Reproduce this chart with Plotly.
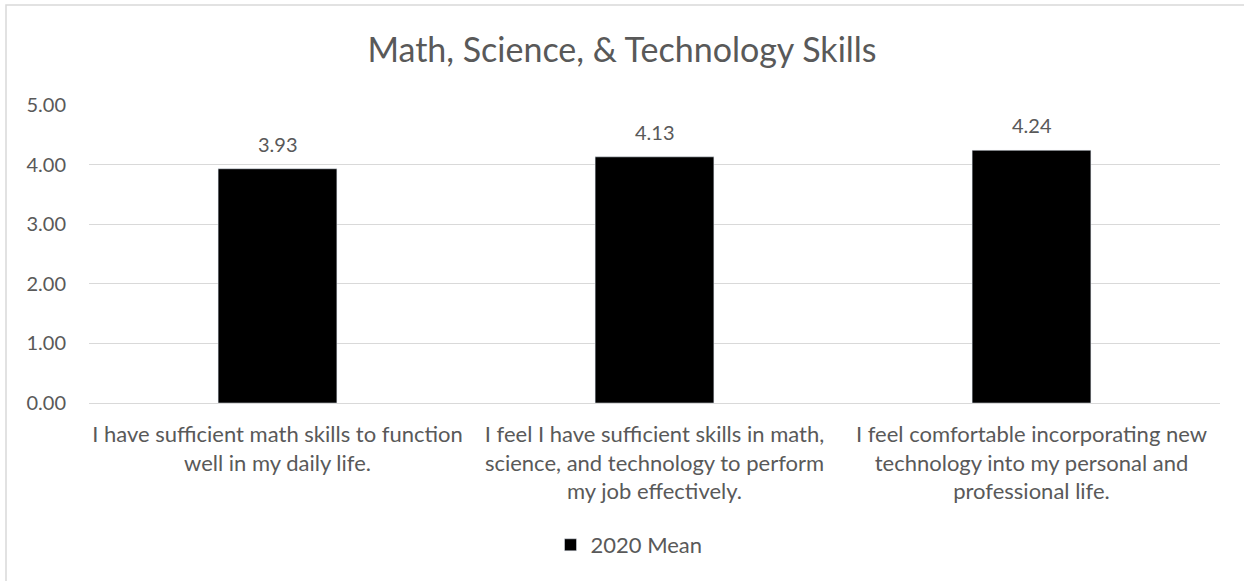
import plotly.graph_objects as go

categories = [
    "I have sufficient math skills to function<br>well in my daily life.",
    "I feel I have sufficient skills in math,<br>science, and technology to perform<br>my job effectively.",
    "I feel comfortable incorporating new<br>technology into my personal and<br>professional life.",
]
mean_2020 = [3.93, 4.13, 4.24]
series_name = "2020 Mean"
tick_vals = [0, 1, 2, 3, 4, 5]
tick_text = ["0.00", "1.00", "2.00", "3.00", "4.00", "5.00"]

FONT = "Lato"
GRAY = "#595959"

fig = go.Figure()
fig.add_trace(go.Bar(
    x=categories,
    y=mean_2020,
    name=series_name,
    marker=dict(color="#000000"),
    width=0.315,
))

for c, v in zip(categories, mean_2020):
    fig.add_annotation(x=c, y=v, xref="x", yref="y", text=f"{v:.2f}",
                       showarrow=False, yshift=25, yanchor="middle",
                       font=dict(family=FONT, size=20, color=GRAY))

fig.update_layout(
    width=1244, height=581,
    paper_bgcolor="white", plot_bgcolor="white",
    margin=dict(l=89, r=24, t=105, b=178, autoexpand=False),
    title=dict(text="Math, Science, &amp; Technology Skills", x=0.5, xanchor="center",
               y=1 - 50/581, yanchor="middle",
               font=dict(family=FONT, size=34, color=GRAY)),
    showlegend=True,
    legend=dict(orientation="h", x=0.5 - 25.5/1131, xanchor="center", yref="container",
                y=1 - 545/581, yanchor="middle",
                font=dict(family=FONT, size=22, color=GRAY)),
    shapes=[dict(type="rect", xref="paper", yref="paper",
                 x0=(6 - 89)/1131, x1=(1252 - 89)/1131,
                 y0=(403 - 590)/298, y1=(403 - 5)/298,
                 line=dict(color="#d9d9d9", width=1.5), layer="below")],
)
fig.update_xaxes(showgrid=False, showline=False, ticks="", ticklabelstandoff=16,
                 tickfont=dict(family=FONT, size=22, color=GRAY))
fig.update_yaxes(range=[0, 5], tickvals=tick_vals, ticktext=tick_text,
                 showgrid=True, gridcolor="#d9d9d9", gridwidth=1.3,
                 zeroline=True, zerolinecolor="#d9d9d9", zerolinewidth=1.3,
                 showline=False, ticks="", ticklabelstandoff=22,
                 tickfont=dict(family=FONT, size=20, color=GRAY))

fig.write_html("out.html", config={"displayModeBar": False},
               post_script="document.body.style.margin='0';document.body.style.overflow='hidden';")
